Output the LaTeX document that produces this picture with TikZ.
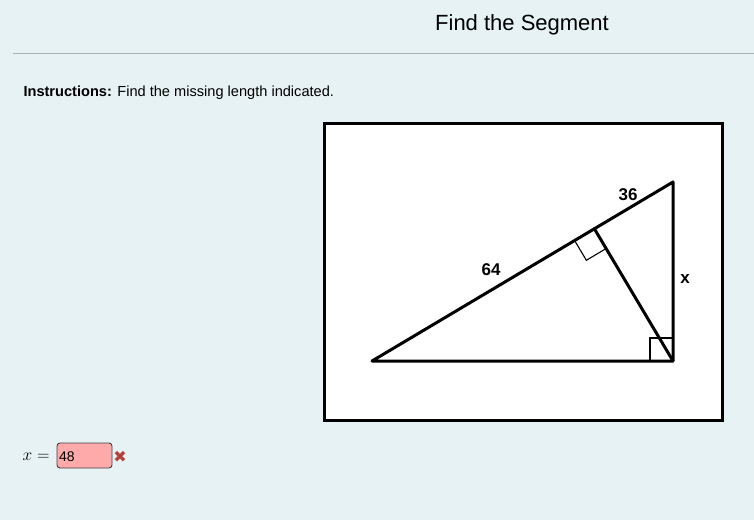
\documentclass[tikz,border=0pt]{standalone}
\usepackage{fontspec}
\setmainfont{Liberation Sans}
\newfontfamily\symfont{DejaVu Sans}
\usetikzlibrary{calc,positioning}
\definecolor{pagebg}{HTML}{E7F2F4}
\definecolor{rulegrey}{HTML}{A7B0B2}
\definecolor{wrongpink}{HTML}{FFAAAA}
\definecolor{crossred}{HTML}{B5423A}

\begin{document}
\begin{tikzpicture}[x=1pt,y=-1pt,
    side/.style={line width=3pt, line join=round, line cap=round},
    rmark/.style={line width=1.1pt},
    lbl/.style={font=\bfseries\fontsize{17}{19}\selectfont}]
    \fill[pagebg] (0,0) rectangle (754,520);
    \useasboundingbox (0,0) rectangle (754,520);
    % header
    \node[font=\fontsize{22}{26}\selectfont] (title) at (522,25) {Find the Segment};
    \coordinate (ruleL) at (13,53);
    \coordinate (ruleR) at (754,53);
    \draw[rulegrey, line width=0.8pt] (ruleL) -- (ruleR);
    \node[anchor=west, font=\fontsize{14.6}{17}\selectfont] (instr) at (20,93)
        {\textbf{Instructions:} Find the missing length indicated.};
    % figure
    \draw[line width=3pt, fill=white] (324,123) rectangle (722,420);
    \coordinate (A) at (372,361);
    \coordinate (B) at (673,361);
    \coordinate (C) at (673,182);
    \coordinate (D) at ($(C)!(B)!(A)$);
    \draw[side] (A) -- (B) -- (C) -- cycle;
    \draw[side] (B) -- (D);
    % right angle marks
    \coordinate (d1) at ($(D)!23pt!(A)$);
    \coordinate (d2) at ($(D)!23pt!(B)$);
    \draw[rmark] (d1) -- ($(d1)+(d2)-(D)$) -- (d2);
    \coordinate (b1) at ($(B)!23pt!(A)$);
    \coordinate (b2) at ($(B)!23pt!(C)$);
    \draw[rmark] (b1) -- ($(b1)+(b2)-(B)$) -- (b2);
    \node[lbl] (lenAD) at (491,270) {64};
    \node[lbl] (lenDC) at (628,195) {36};
    \node[lbl] (lenBC) at (685,279) {x};
    % answer
    \node[anchor=east, font=\fontsize{17}{19}\selectfont] (eq) at (53,457) {$x=$};
    \draw[rounded corners=3pt, fill=wrongpink, draw=black!75, line width=0.9pt]
        (57,443) rectangle (112,468);
    \node[anchor=west, inner sep=0pt, font=\fontsize{14}{16}\selectfont] (ans) at (59,457) {48};
    \node[text=crossred, font=\symfont\fontsize{16}{18}\selectfont] (wrong) at (120,457) {✖};
\end{tikzpicture}
\end{document}
